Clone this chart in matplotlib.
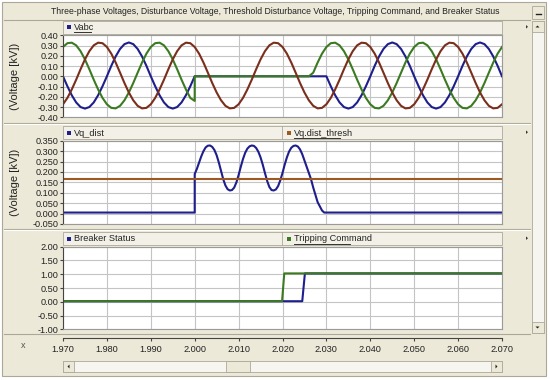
import matplotlib
matplotlib.use('Agg')
import matplotlib.pyplot as plt
from matplotlib.patches import Rectangle, Polygon
from matplotlib.lines import Line2D

plt.rcParams['font.family'] = ['Liberation Sans', 'DejaVu Sans']

W, H = 550, 380

# ---------------- data ----------------
TITLE = ("Three-phase Voltages, Disturbance Voltage, Threshold Disturbance Voltage, "
         "Tripping Command, and Breaker Status")

# Panel 1 : three-phase voltages, sampled every 1 ms from 1.970 s (2.000 s appears twice: step)
t_vabc_ms = [0, 1, 2, 3, 4, 5, 6, 7, 8, 9,
             10, 11, 12, 13, 14, 15, 16, 17, 18, 19,
             20, 21, 22, 23, 24, 25, 26, 27, 28, 29,
             30, 30,
             31, 32, 33, 34, 35, 36, 37, 38, 39, 40,
             41, 42, 43, 44, 45, 46, 47, 48, 49, 50,
             51, 52, 53, 54, 55, 56, 57, 58, 59, 60,
             61, 62, 63, 64, 65, 66, 67, 68, 69, 70,
             71, 72, 73, 74, 75, 76, 77, 78, 79, 80,
             81, 82, 83, 84, 85, 86, 87, 88, 89, 90,
             91, 92, 93, 94, 95, 96, 97, 98, 99, 100]
t_vabc_start = 1.970

va_blue = [0.000, -0.097, -0.185, -0.255, -0.300, -0.315, -0.300, -0.255, -0.185, -0.097,
           0.000, 0.102, 0.194, 0.267, 0.314, 0.330, 0.314, 0.267, 0.194, 0.102,
           0.000, -0.097, -0.185, -0.255, -0.300, -0.315, -0.300, -0.255, -0.185, -0.097,
           0.000, 0.000,
           0.000, 0.000, 0.000, 0.000, 0.000, 0.000, 0.000, 0.000, 0.000, 0.000,
           0.000, 0.000, 0.000, 0.000, 0.000, 0.000, 0.000, 0.000, 0.000, 0.000,
           0.000, 0.000, 0.000, 0.000, 0.000, 0.000, 0.000, 0.000, 0.000, 0.000,
           -0.097, -0.185, -0.255, -0.300, -0.315, -0.300, -0.255, -0.185, -0.097, 0.000,
           0.102, 0.194, 0.267, 0.314, 0.330, 0.314, 0.267, 0.194, 0.102, 0.000,
           -0.097, -0.185, -0.255, -0.300, -0.315, -0.300, -0.255, -0.185, -0.097, 0.000,
           0.102, 0.194, 0.267, 0.314, 0.330, 0.314, 0.267, 0.194, 0.102, 0.000]

vb_green = [0.286, 0.323, 0.328, 0.302, 0.245, 0.165, 0.069, -0.033, -0.128, -0.211,
            -0.273, -0.308, -0.313, -0.288, -0.234, -0.158, -0.066, 0.035, 0.134, 0.221,
            0.286, 0.323, 0.328, 0.302, 0.245, 0.165, 0.069, -0.033, -0.128, -0.211,
            -0.240, 0.000,
            0.000, 0.000, 0.000, 0.000, 0.000, 0.000, 0.000, 0.000, 0.000, 0.000,
            0.000, 0.000, 0.000, 0.000, 0.000, 0.000, 0.000, 0.000, 0.000, 0.000,
            0.000, 0.000, 0.000, 0.000, 0.000, 0.000, 0.035, 0.134, 0.221, 0.286,
            0.323, 0.328, 0.302, 0.245, 0.165, 0.069, -0.033, -0.128, -0.211, -0.273,
            -0.308, -0.313, -0.288, -0.234, -0.158, -0.066, 0.035, 0.134, 0.221, 0.286,
            0.323, 0.328, 0.302, 0.245, 0.165, 0.069, -0.033, -0.128, -0.211, -0.273,
            -0.308, -0.313, -0.288, -0.234, -0.158, -0.066, 0.035, 0.134, 0.221, 0.286]

vc_brown = [-0.273, -0.211, -0.128, -0.033, 0.069, 0.165, 0.245, 0.302, 0.328, 0.323,
            0.286, 0.221, 0.134, 0.035, -0.066, -0.158, -0.234, -0.288, -0.313, -0.308,
            -0.273, -0.211, -0.128, -0.033, 0.069, 0.165, 0.245, 0.302, 0.328, 0.323,
            0.286, 0.286,
            0.221, 0.134, 0.035, -0.066, -0.158, -0.234, -0.288, -0.313, -0.308, -0.273,
            -0.211, -0.128, -0.033, 0.069, 0.165, 0.245, 0.302, 0.328, 0.323, 0.286,
            0.221, 0.134, 0.035, -0.066, -0.158, -0.234, -0.288, -0.313, -0.308, -0.273,
            -0.211, -0.128, -0.033, 0.069, 0.165, 0.245, 0.302, 0.328, 0.323, 0.286,
            0.221, 0.134, 0.035, -0.066, -0.158, -0.234, -0.288, -0.313, -0.308, -0.273,
            -0.211, -0.128, -0.033, 0.069, 0.165, 0.245, 0.302, 0.328, 0.323, 0.286,
            0.221, 0.134, 0.035, -0.066, -0.158, -0.234, -0.288, -0.313, -0.308, -0.273]

# Panel 2 : disturbance voltage and threshold
t_vq = [1.970, 2.0000, 2.0000, 2.0005, 2.0010, 2.0015, 2.0020, 2.0025, 2.0030, 2.0035,
        2.0040, 2.0045, 2.0050, 2.0055, 2.0060, 2.0065, 2.0070, 2.0075, 2.0080, 2.0085,
        2.0090, 2.0095, 2.0100, 2.0105, 2.0110, 2.0115, 2.0120, 2.0125, 2.0130, 2.0135,
        2.0140, 2.0145, 2.0150, 2.0155, 2.0160, 2.0165, 2.0170, 2.0175, 2.0180, 2.0185,
        2.0190, 2.0195, 2.0200, 2.0205, 2.0210, 2.0215, 2.0220, 2.0225, 2.0230, 2.0235,
        2.0240, 2.0245, 2.0250, 2.0255, 2.0260, 2.0265, 2.0270, 2.0275, 2.0280, 2.0285,
        2.0290, 2.0295, 2.070]
vq_dist = [0.005, 0.005, 0.190, 0.215, 0.245, 0.275, 0.300, 0.318, 0.326, 0.327,
           0.320, 0.305, 0.280, 0.245, 0.205, 0.165, 0.135, 0.117, 0.111, 0.113,
           0.125, 0.150, 0.185, 0.225, 0.262, 0.292, 0.312, 0.323, 0.327, 0.325,
           0.315, 0.297, 0.270, 0.235, 0.195, 0.157, 0.128, 0.113, 0.111, 0.116,
           0.132, 0.160, 0.195, 0.235, 0.270, 0.298, 0.316, 0.325, 0.327, 0.322,
           0.308, 0.285, 0.255, 0.225, 0.195, 0.165, 0.125, 0.090, 0.055, 0.035,
           0.015, 0.005, 0.005]
t_thresh = [1.970, 2.070]
vq_thresh = [0.166, 0.166]

# Panel 3 : breaker status and tripping command
t_breaker = [1.970, 2.0245, 2.0251, 2.070]
breaker = [0.02, 0.02, 1.03, 1.03]
t_trip = [1.970, 2.0199, 2.0204, 2.070]
trip = [0.02, 0.02, 1.03, 1.03]

x_ticks = [1.970, 1.980, 1.990, 2.000, 2.010, 2.020, 2.030, 2.040, 2.050, 2.060, 2.070]
y1_ticks = [-0.40, -0.30, -0.20, -0.10, 0.00, 0.10, 0.20, 0.30, 0.40]
y2_ticks = [-0.050, 0.000, 0.050, 0.100, 0.150, 0.200, 0.250, 0.300, 0.350]
y3_ticks = [-1.00, -0.50, 0.00, 0.50, 1.00, 1.50, 2.00]

# ---------------- styling ----------------
BEIGE = '#ECE9D8'
BAR = '#F3F1E7'
EDGE = '#ACA899'
GRID = '#C4C4C4'
NAVY = '#1E1E8C'
GREEN = '#3C7A22'
BROWN = '#7A2E1C'
THR = '#9C5A22'
TXT = '#222222'
FS = 6.6

fig = plt.figure(figsize=(W / 100, H / 100), dpi=100)
fig.patch.set_facecolor('white')


def rect(x, y, w, h, fc, ec='none', lw=0.8, z=0):
    fig.patches.append(Rectangle((x / W, 1 - (y + h) / H), w / W, h / H,
                                 transform=fig.transFigure, fc=fc, ec=ec, lw=lw, zorder=z))


def hline(x0, x1, y, color, lw=0.8, z=1):
    fig.lines.append(Line2D([x0 / W, x1 / W], [1 - y / H, 1 - y / H],
                            transform=fig.transFigure, color=color, lw=lw, zorder=z))


def tri(xc, yc, s, direction, color='#222222'):
    if direction == 'right':
        pts = [(xc - s / 2, yc - s), (xc - s / 2, yc + s), (xc + s / 2, yc)]
    elif direction == 'left':
        pts = [(xc + s / 2, yc - s), (xc + s / 2, yc + s), (xc - s / 2, yc)]
    elif direction == 'up':
        pts = [(xc - s, yc + s / 2), (xc + s, yc + s / 2), (xc, yc - s / 2)]
    else:
        pts = [(xc - s, yc - s / 2), (xc + s, yc - s / 2), (xc, yc + s / 2)]
    fig.patches.append(Polygon([(px / W, 1 - py / H) for px, py in pts],
                               transform=fig.transFigure, fc=color, ec='none', zorder=3))


# window frame
rect(2, 2, 544, 374, BEIGE, EDGE, 0.8, z=-10)
# title row
hline(4, 530, 19.5, EDGE)
fig.text(275 / W, 1 - 12 / H, TITLE, ha='center', va='center', fontsize=6.2, color=TXT)
rect(532, 6, 12, 13, BEIGE, EDGE, 0.6, z=1)
hline(535.5, 540.5, 14, '#222222', 1.0, z=3)
# vertical scrollbar
rect(531.5, 21, 12, 312, '#F6F5EF', EDGE, 0.6, z=1)
rect(531.5, 21, 12, 11, BEIGE, EDGE, 0.6, z=2)
rect(531.5, 322, 12, 11, BEIGE, EDGE, 0.6, z=2)
tri(537.5, 26.5, 2.0, 'up')
tri(537.5, 327.5, 2.0, 'down')
# panel separators
hline(4, 530, 123, EDGE)
hline(4, 530, 124, 'white')
hline(4, 530, 229, EDGE)
hline(4, 530, 230, 'white')
hline(4, 530, 334, EDGE)
# horizontal scrollbar
rect(63, 361, 439, 11, '#F6F5EF', EDGE, 0.6, z=1)
rect(63, 361, 11, 11, BEIGE, EDGE, 0.6, z=2)
rect(491, 361, 11, 11, BEIGE, EDGE, 0.6, z=2)
rect(226, 361, 24, 11, BEIGE, EDGE, 0.6, z=2)
tri(68.5, 366.5, 2.0, 'left')
tri(496.5, 366.5, 2.0, 'right')
fig.text(23 / W, 1 - 345 / H, 'x', ha='center', va='center', fontsize=FS, color='#555555')

L, R = 63, 502
panels = [(35.3, 117.3), (140.7, 224.0), (246.7, 329.3)]


def make_ax(top, bot):
    ax = fig.add_axes([L / W, 1 - bot / H, (R - L) / W, (bot - top) / H])
    ax.set_zorder(5)
    ax.set_facecolor('white')
    ax.set_xlim(1.970, 2.070)
    ax.set_xticks(x_ticks)
    ax.grid(True, color=GRID, lw=0.8)
    ax.set_axisbelow(True)
    for s in ('top', 'right', 'bottom'):
        ax.spines[s].set_color('#9A9A9A')
        ax.spines[s].set_linewidth(0.8)
    ax.spines['left'].set_color('#444444')
    ax.spines['left'].set_linewidth(0.8)
    ax.tick_params(axis='x', length=0, labelbottom=False)
    ax.tick_params(axis='y', length=2.5, width=0.8, color='#444444', labelsize=FS,
                   labelcolor=TXT, pad=1)
    return ax


def legend_bar(top, items):
    y0 = top - 14.5
    rect(L, y0, R - L, 13, BAR, EDGE, 0.6, z=1)
    for (x, label, color, underline) in items:
        if x > L + 5:
            fig.lines.append(Line2D([(x - 5) / W] * 2, [1 - y0 / H, 1 - (y0 + 13) / H],
                                    transform=fig.transFigure, color=EDGE, lw=0.6, zorder=2))
        rect(x, y0 + 4.5, 4, 4, color, z=3)
        fig.text((x + 7) / W, 1 - (y0 + 6.8) / H, label, ha='left', va='center',
                 fontsize=FS, color=TXT, zorder=3)
        if underline:
            hline(x + 7, x + 7 + underline, y0 + 11.5, '#333333', 0.7, z=3)
    tri(527, y0 + 6, 1.8, 'right')


# Panel 1
ax1 = make_ax(*panels[0])
t_vabc = [t_vabc_start + m / 1000.0 for m in t_vabc_ms]
ax1.plot(t_vabc, va_blue, color=NAVY, lw=1.5, solid_joinstyle='round')
ax1.plot(t_vabc, vb_green, color=GREEN, lw=1.5, solid_joinstyle='round')
ax1.plot(t_vabc, vc_brown, color=BROWN, lw=1.5, solid_joinstyle='round')
ax1.set_ylim(-0.40, 0.40)
ax1.set_yticks(y1_ticks)
ax1.set_yticklabels([f'{v:.2f}' for v in y1_ticks])
legend_bar(panels[0][0], [(67, 'Vabc', NAVY, 17)])

# Panel 2
ax2 = make_ax(*panels[1])
ax2.plot(t_vq, vq_dist, color=NAVY, lw=1.5, solid_joinstyle='round')
ax2.plot(t_thresh, vq_thresh, color=THR, lw=1.5)
ax2.set_ylim(-0.050, 0.350)
ax2.set_yticks(y2_ticks)
ax2.set_yticklabels([f'{v:.3f}' for v in y2_ticks])
legend_bar(panels[1][0], [(67, 'Vq_dist', NAVY, 0), (287, 'Vq.dist_thresh', THR, 46)])

# Panel 3
ax3 = make_ax(*panels[2])
ax3.plot(t_breaker, breaker, color=NAVY, lw=1.5)
ax3.plot(t_trip, trip, color=GREEN, lw=1.5)
ax3.set_ylim(-1.00, 2.00)
ax3.set_yticks(y3_ticks)
ax3.set_yticklabels([f'{v:.2f}' for v in y3_ticks])
legend_bar(panels[2][0], [(67, 'Breaker Status', NAVY, 0), (287, 'Tripping Command', GREEN, 56)])

# y labels
for top, bot in panels[:2]:
    fig.text(15 / W, 1 - ((top + bot) / 2) / H, '(Voltage [kV])', rotation=90,
             ha='center', va='center', fontsize=8, color=TXT)

# x axis strip
axx = fig.add_axes([L / W, 1 - 337.5 / H, (R - L) / W, 0.0001])
axx.set_zorder(5)
axx.set_xlim(1.970, 2.070)
axx.set_xticks(x_ticks)
axx.set_xticklabels([f'{v:.3f}' for v in x_ticks])
axx.set_yticks([])
axx.patch.set_alpha(0)
for s in ('top', 'left', 'right'):
    axx.spines[s].set_visible(False)
axx.spines['bottom'].set_color('#444444')
axx.spines['bottom'].set_linewidth(0.8)
axx.tick_params(axis='x', length=2.5, width=0.8, color='#444444', labelsize=FS,
                labelcolor=TXT, pad=3)

fig.savefig('out.png', dpi=100, facecolor=fig.get_facecolor())
